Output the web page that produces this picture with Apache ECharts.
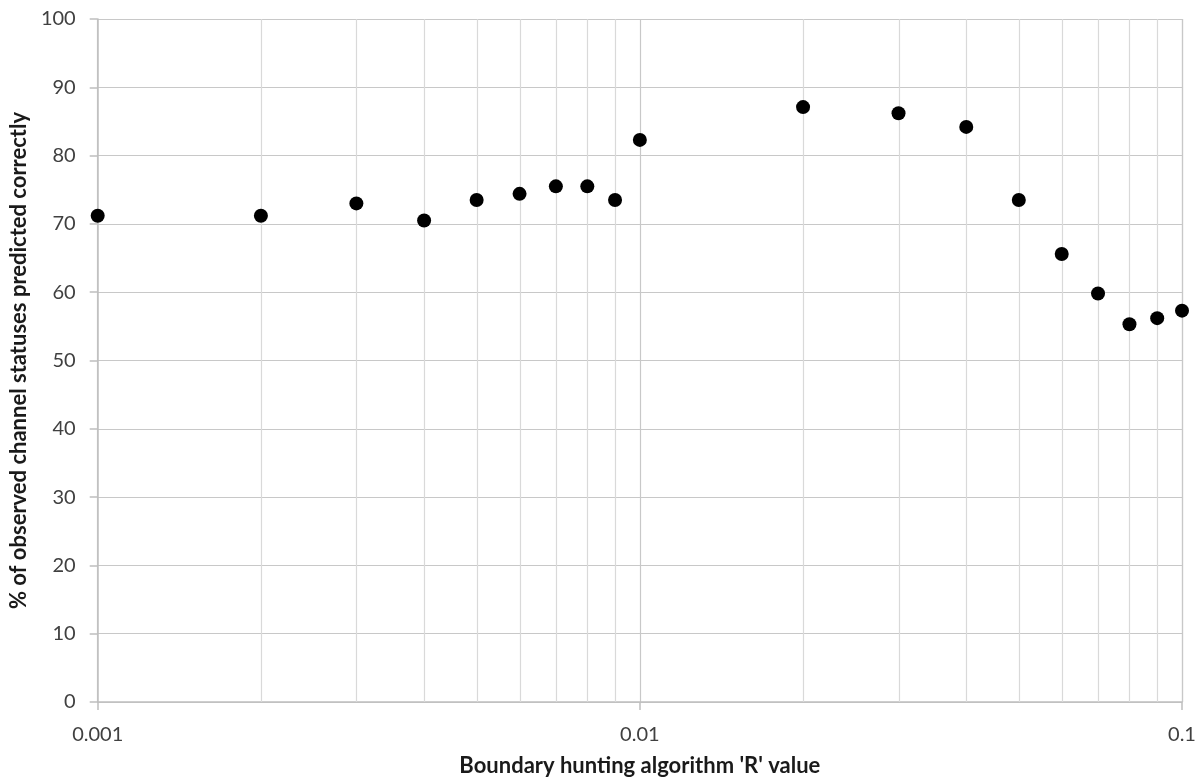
<!DOCTYPE html>
<html>
<head>
<meta charset="utf-8">
<script src="https://cdn.jsdelivr.net/npm/echarts@6/dist/echarts.min.js"></script>
<style>
html,body{margin:0;padding:0;background:#fff;}
#chart{width:1202px;height:782px;}
</style>
</head>
<body>
<div id="chart"></div>
<script>
var rValues = [0.001,0.002,0.003,0.004,0.005,0.006,0.007,0.008,0.009,0.01,0.02,0.03,0.04,0.05,0.06,0.07,0.08,0.09,0.1];
var pctCorrect = [71.2,71.2,73.0,70.5,73.5,74.4,75.5,75.5,73.5,82.3,87.1,86.2,84.2,73.5,65.6,59.8,55.3,56.2,57.3];
var minorGridValues = [0.002,0.003,0.004,0.005,0.006,0.007,0.008,0.009,0.02,0.03,0.04,0.05,0.06,0.07,0.08,0.09];
var xTitle = "Boundary hunting algorithm 'R' value";
var yTitle = "% of observed channel statuses predicted correctly";

var points = rValues.map(function(r,i){return [r,pctCorrect[i]];});
var chart = echarts.init(document.getElementById('chart'));
chart.setOption({
  animation:false,
  backgroundColor:'#fff',
  grid:{left:96,right:20,top:19,bottom:78,containLabel:false},
  xAxis:{
    type:'log',logBase:10,min:0.001,max:0.1,
    name:xTitle,nameLocation:'middle',nameGap:53,
    nameTextStyle:{fontFamily:'Lato',fontWeight:'bold',fontSize:22,color:'#1a1a1a'},
    axisLine:{show:true,lineStyle:{color:'#bfbfbf',width:1.5}},
    axisTick:{show:true,length:8,lineStyle:{color:'#bfbfbf',width:1.5}},
    axisLabel:{fontFamily:'Lato',fontSize:20,color:'#404040',margin:23,
      formatter:function(v){return String(+v.toPrecision(3));}},
    splitLine:{show:true,lineStyle:{color:'#c8c8c8',width:1.2}}
  },
  yAxis:{
    type:'value',min:0,max:100,interval:10,
    name:yTitle,nameLocation:'middle',nameGap:66,
    nameTextStyle:{fontFamily:'Lato',fontWeight:'bold',fontSize:22,color:'#1a1a1a'},
    axisLine:{show:true,lineStyle:{color:'#bfbfbf',width:1.5}},
    axisTick:{show:true,length:8,lineStyle:{color:'#bfbfbf',width:1.5}},
    axisLabel:{fontFamily:'Lato',fontSize:20,color:'#404040',margin:22},
    splitLine:{show:true,lineStyle:{color:'#c8c8c8',width:1.2}}
  },
  series:[{
    type:'custom',
    silent:true,
    z:1,
    data:minorGridValues,
    encode:{x:0},
    renderItem:function(params,api){
      var v=api.value(0);
      var p1=api.coord([v,0]);
      var p2=api.coord([v,100]);
      return {type:'line',shape:{x1:Math.round(p1[0])+0.5,y1:p1[1],x2:Math.round(p2[0])+0.5,y2:p2[1]},
        style:{stroke:'#d9d9d9',lineWidth:1.2}};
    }
  },{
    type:'scatter',
    data:points,
    symbol:'circle',symbolSize:14,
    itemStyle:{color:'#000',opacity:1},
    z:5
  }]
});
</script>
</body>
</html>
